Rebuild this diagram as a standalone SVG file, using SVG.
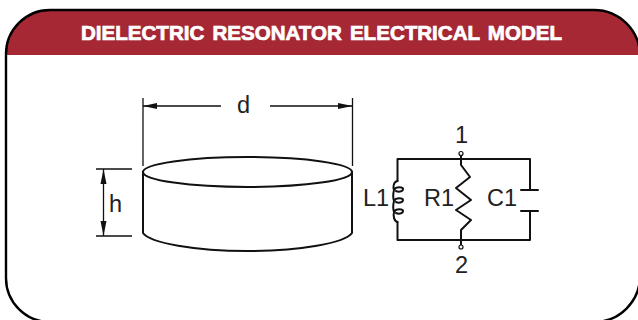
<svg xmlns="http://www.w3.org/2000/svg" width="638" height="320" viewBox="0 0 638 320">
<style>
.l{font-family:"Liberation Sans",Arial,sans-serif;font-size:23.500px;fill:#222}
.s{fill:none;stroke:#111;stroke-width:2;stroke-linejoin:round;stroke-linecap:round}
.t{fill:none;stroke:#111;stroke-width:1.300}
.a{fill:#111}
</style>
<g id="frame">
<path d="M6 55V54A44 44 0 0 1 50 10H594A46 46 0 0 1 640 55Z" fill="#a62835"/>
<path d="M6 278V54A44 44 0 0 1 50 10H594A46 46 0 0 1 640 56" fill="none" stroke="#000" stroke-width="2.400"/>
<path d="M6 278A44 44 0 0 0 50 322H594A46 46 0 0 0 640 276" fill="none" stroke="#000" stroke-width="2.400"/>
<text transform="translate(81 39.500) scale(1.300 1.230)" x="0" y="0" textLength="370" lengthAdjust="spacingAndGlyphs" font-family="'Liberation Sans',Arial,sans-serif" font-weight="700" font-size="17" word-spacing="2" fill="#fff" stroke="#fff" stroke-width="0.600">DIELECTRIC RESONATOR ELECTRICAL MODEL</text>
</g>
<g id="connectors">
<path class="t" d="M143 98V166M352.500 98V166M143 106H221M270 106H352.500M96 169H132M96 236H132M103.500 169V236"/>
<path class="a" d="M143 106L157 103V109ZM352.500 106L338 103V109ZM103.500 169L100.500 184H106.500ZM103.500 236L100.500 221H106.500Z"/>
</g>
<g id="cylinder">
<ellipse cx="247.500" cy="172" rx="104.500" ry="15" fill="#fff" class="s"/>
<path class="s" d="M143 172V233C150 243 195 251 247.500 251C300 251 345 243 352 233V172"/>
<text class="l" x="237" y="113">d</text>
<text class="l" x="109" y="212">h</text>
</g>
<g id="circuit">
<path class="s" d="M397.500 181V159H530V190M530 211V240H397.500V222M461 154V165L470 177L456 188L471 200L456 210L471 220L461 230V246"/>
<path class="s" d="M521 190H538M521 211H538"/>
<path class="s" d="M397.500 181C393 182 393 188 394 190C393 194 393 198 394 201C393 205 393 209 394 212C393 216 394 221 397.500 222M394 190C396 186 403 187 403 189C403 192 398 192 396 191M394 201C396 197 403 198 403 200C403 203 398 203 396 202M394 212C396 208 403 209 403 211C403 214 398 214 396 213" stroke-width="1.800"/>
<circle cx="461" cy="153.500" r="2" fill="#fff" stroke="#111" stroke-width="1.200"/>
<circle cx="461" cy="247" r="2" fill="#fff" stroke="#111" stroke-width="1.200"/>
</g>
<g id="labels">
<text class="l" x="455" y="143">1</text>
<text class="l" x="455" y="273">2</text>
<text class="l" x="363" y="206">L1</text>
<text class="l" x="424" y="206">R1</text>
<text class="l" x="487" y="206">C1</text>
</g>
</svg>
